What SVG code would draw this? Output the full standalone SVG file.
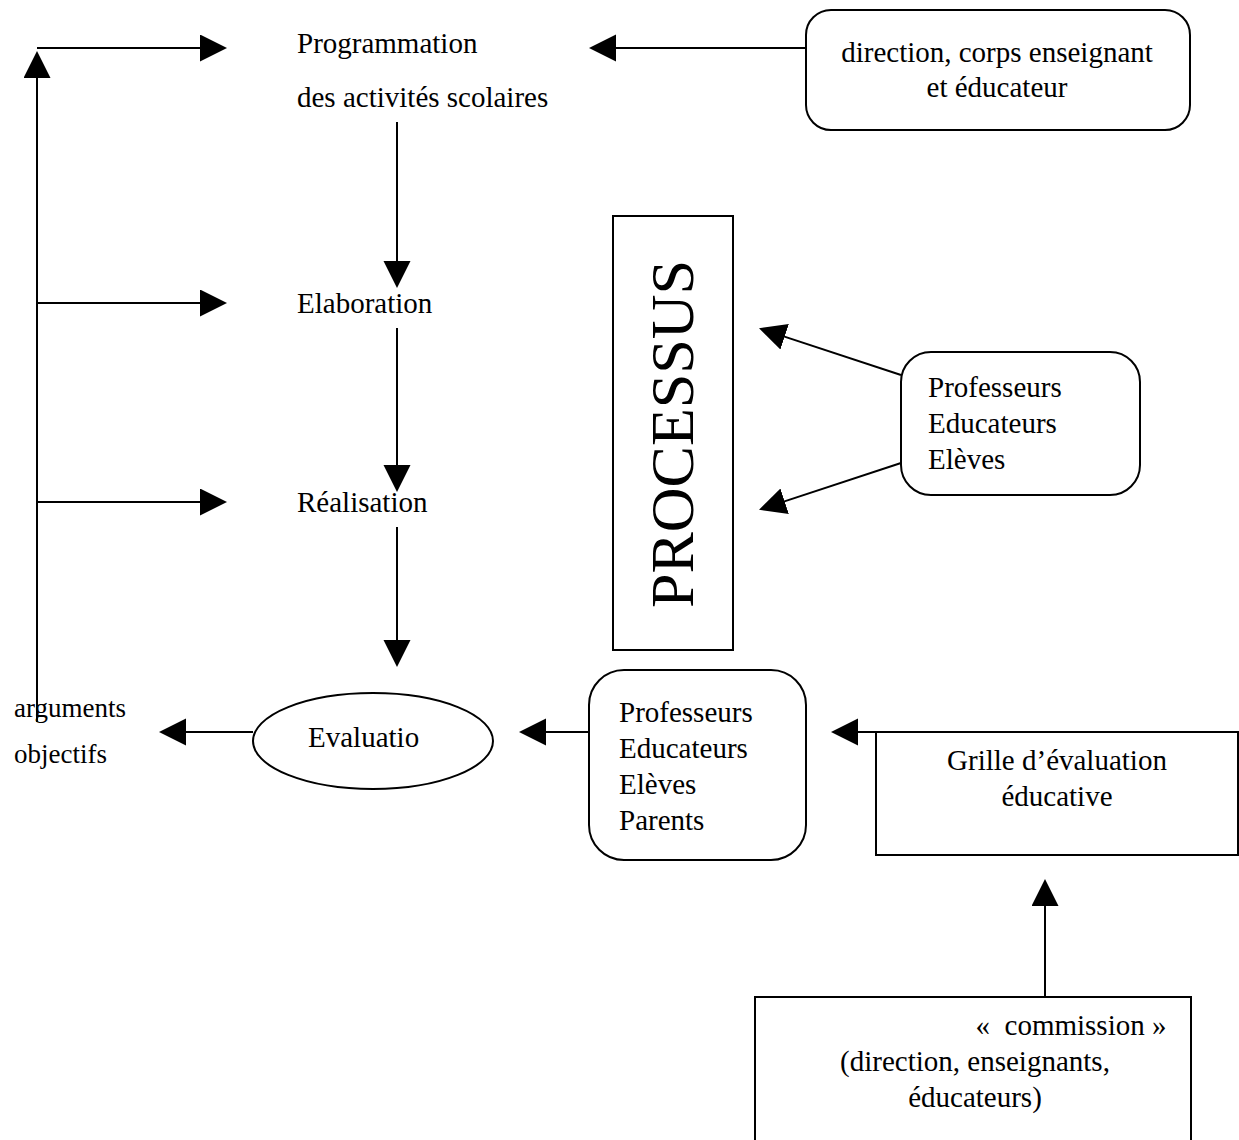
<svg xmlns="http://www.w3.org/2000/svg" width="1239" height="1140" viewBox="0 0 1239 1140">
<style>
text{font-family:"Liberation Serif","Times New Roman",serif;font-size:29px;fill:#000}
.box{fill:#fff;stroke:#000;stroke-width:2}
.c{stroke:#000;stroke-width:2;fill:none;marker-end:url(#ah)}
.m{text-anchor:middle}
</style>
<defs>
<marker id="ah" markerUnits="userSpaceOnUse" markerWidth="28" markerHeight="28" refX="1" refY="13.5" orient="auto">
<path d="M0,0 L27,13.5 L0,27 z" fill="#000"/>
</marker>
</defs>
<rect width="1239" height="1140" fill="#fff"/>
<g id="connectors">
<line class="c" x1="37" y1="722" x2="37" y2="77"/>
<line class="c" x1="37" y1="48" x2="201" y2="48"/>
<line class="c" x1="37" y1="303" x2="201" y2="303"/>
<line class="c" x1="37" y1="502" x2="201" y2="502"/>
<line class="c" x1="806" y1="48" x2="615" y2="48"/>
<line class="c" x1="397" y1="122" x2="397" y2="262"/>
<line class="c" x1="397" y1="328" x2="397" y2="466"/>
<line class="c" x1="397" y1="527" x2="397" y2="641"/>
<line class="c" x1="901" y1="375" x2="783.7" y2="336.4"/>
<line class="c" x1="901" y1="463" x2="783.7" y2="501.6"/>
<line class="c" x1="253" y1="732" x2="185" y2="732"/>
<line class="c" x1="589" y1="732" x2="545" y2="732"/>
<line class="c" x1="876" y1="732" x2="857" y2="732"/>
<line class="c" x1="1045" y1="997" x2="1045" y2="905"/>
</g>
<g id="programmation">
<text x="297" y="53">Programmation</text>
<text x="297" y="107">des activités scolaires</text>
</g>
<g id="elaboration"><text x="297" y="313">Elaboration</text></g>
<g id="realisation"><text x="297" y="512">Réalisation</text></g>
<g id="direction">
<rect class="box" x="806" y="10" width="384" height="120" rx="25"/>
<text class="m" x="997" y="62">direction, corps enseignant</text>
<text class="m" x="997" y="97">et éducateur</text>
</g>
<g id="processus">
<rect class="box" x="613" y="216" width="120" height="434"/>
<text class="m" transform="translate(693,434) rotate(-90)" style="font-size:62px">PROCESSUS</text>
</g>
<g id="acteurs-processus">
<rect class="box" x="901" y="352" width="239" height="143" rx="30"/>
<text x="928" y="397">Professeurs</text>
<text x="928" y="433">Educateurs</text>
<text x="928" y="469">Elèves</text>
</g>
<g id="evaluation">
<ellipse class="box" cx="373" cy="741" rx="120" ry="48"/>
<text x="308" y="747">Evaluatio</text>
</g>
<g id="arguments">
<text x="14" y="717" style="font-size:27px">arguments</text>
<text x="14" y="763" style="font-size:27px">objectifs</text>
</g>
<g id="acteurs-evaluation">
<rect class="box" x="589" y="670" width="217" height="190" rx="35"/>
<text x="619" y="722">Professeurs</text>
<text x="619" y="758">Educateurs</text>
<text x="619" y="794">Elèves</text>
<text x="619" y="830">Parents</text>
</g>
<g id="grille">
<rect class="box" x="876" y="732" width="362" height="123"/>
<text class="m" x="1057" y="770">Grille d’évaluation</text>
<text class="m" x="1057" y="806">éducative</text>
</g>
<g id="commission">
<rect class="box" x="755" y="997" width="436" height="160"/>
<text class="m" x="1071" y="1035">«&#160; commission »</text>
<text class="m" x="975" y="1071">(direction, enseignants,</text>
<text class="m" x="975" y="1107">éducateurs)</text>
</g>
</svg>
